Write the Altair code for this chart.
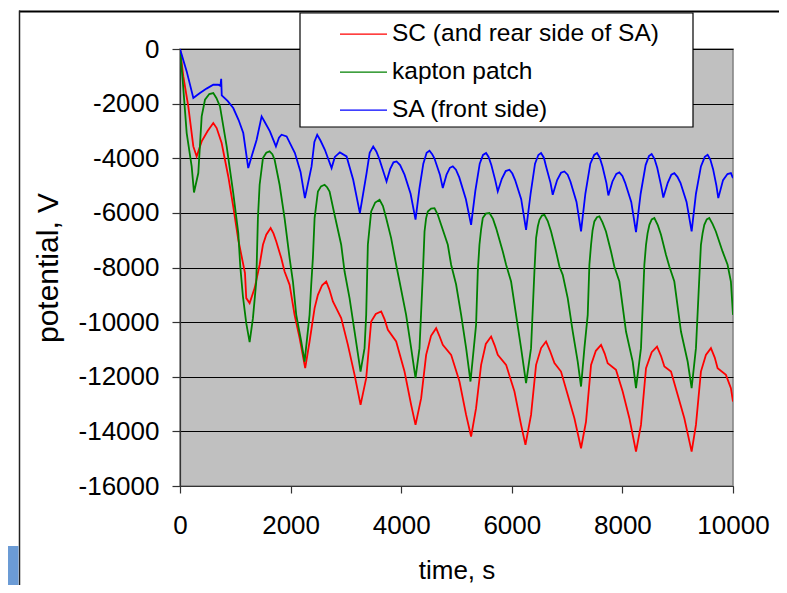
import altair as alt
import pandas as pd

series_names = ["SC (and rear side of SA)", "kapton patch", "SA (front side)"]
series_colors = ["#FF0000", "#008000", "#0000FF"]

x_ticks = [0, 2000, 4000, 6000, 8000, 10000]
y_ticks = [0, -2000, -4000, -6000, -8000, -10000, -12000, -14000, -16000]

# (time s, potential V)
sc_points = [
    (0, 0), (60, -1003), (150, -2103), (241, -3567), (301, -3933), (361, -3567), (392, -3384),
    (500, -3000), (602, -2711), (663, -2894), (753, -3443), (873, -4667), (963, -5766), (1054, -6985),
    (1175, -8205), (1198, -9121), (1259, -9304), (1350, -8755), (1440, -7900), (1500, -7168),
    (1560, -6800), (1639, -6557), (1690, -6750), (1741, -7047), (1831, -7656), (1891, -8146),
    (1982, -8634), (2072, -9733),
    (2163, -10587), (2264, -11685), (2343, -10710), (2434, -9487), (2494, -9000), (2570, -8650),
    (2644, -8513), (2700, -8800),
    (2765, -9245), (2915, -9853), (3036, -10832), (3157, -11930), (3265, -13030), (3367, -12051),
    (3457, -9977), (3540, -9700), (3638, -9610), (3700, -9900), (3759, -10282), (3909, -10710),
    (4060, -11810), (4180, -13030),
    (4259, -13762), (4361, -12784), (4451, -11198), (4540, -10500), (4632, -10220), (4690, -10500),
    (4752, -10832), (4903, -11198),
    (5054, -12175), (5174, -13396), (5264, -14190), (5354, -13152), (5445, -11564), (5530, -10800),
    (5626, -10527), (5690, -10850),
    (5746, -11198), (5897, -11564), (6048, -12542), (6168, -13762), (6247, -14495), (6348, -13396),
    (6439, -11564), (6530, -10950), (6619, -10710), (6690, -11050), (6771, -11502), (6890, -11810),
    (7011, -12663), (7132, -13517),
    (7252, -14617), (7342, -13640), (7433, -11564), (7520, -11050), (7614, -10832), (7680, -11150),
    (7734, -11502), (7884, -11747),
    (8005, -12542), (8126, -13517), (8246, -14740), (8336, -13762), (8427, -11685), (8530, -11100),
    (8626, -10894), (8700, -11250),
    (8759, -11626), (8879, -11810), (8999, -12663), (9120, -13517), (9252, -14740), (9330, -13762),
    (9420, -11810), (9510, -11200), (9601, -10953), (9670, -11300), (9722, -11685), (9872, -11930),
    (9962, -12418), (10000, -12906),
]

kapton_points = [
    (0, 0), (48, -1125), (121, -3077), (211, -4300), (253, -5253), (331, -4542), (392, -2469),
    (452, -1857), (530, -1650), (602, -1612), (660, -1800), (723, -2103), (844, -3567), (963, -5275),
    (1054, -6740), (1090, -7963), (1138, -9062), (1198, -10037), (1259, -10733), (1319, -9854),
    (1379, -8513), (1409, -6190), (1440, -4970), (1500, -3993), (1560, -3800), (1620, -3750),
    (1670, -3850), (1711, -4055), (1801, -4970), (1891, -6190), (1982, -7656), (2042, -8513),
    (2102, -9733), (2192, -10710), (2253, -11443),
    (2343, -9733), (2373, -8623), (2403, -7656), (2434, -6190), (2494, -5216), (2550, -5030),
    (2614, -4970), (2660, -5060), (2705, -5216), (2795, -6070), (2915, -7168), (2976, -8146),
    (3066, -9121), (3157, -10344),
    (3265, -11810), (3337, -10953), (3367, -9733), (3397, -7168), (3457, -5949), (3530, -5620),
    (3609, -5520), (3670, -5750), (3728, -6190), (3818, -6923), (3909, -7900), (3970, -8513),
    (4089, -9733), (4180, -10953),
    (4259, -12051), (4331, -10953), (4391, -8268), (4422, -6680), (4450, -6200), (4481, -5949),
    (4540, -5840), (4602, -5825), (4660, -6060), (4722, -6436), (4843, -7168), (4903, -7900),
    (4993, -8623), (5084, -9733), (5174, -10953),
    (5253, -12175), (5354, -10100), (5385, -8146), (5415, -7168), (5445, -6600), (5475, -6190),
    (5530, -6030), (5596, -6008), (5660, -6220), (5716, -6557), (5837, -7412), (5897, -7900),
    (5987, -8513), (6077, -9733), (6168, -10953),
    (6258, -12235), (6348, -10953), (6409, -8146), (6439, -6923), (6470, -6500), (6500, -6252),
    (6545, -6100), (6590, -6070), (6650, -6300), (6710, -6680), (6800, -7412), (6861, -7963),
    (6921, -8268), (7011, -9121), (7102, -10344), (7192, -11443),
    (7252, -12358), (7313, -10953), (7373, -9733), (7403, -7900), (7433, -7168), (7460, -6650),
    (7493, -6313), (7540, -6160), (7584, -6130), (7640, -6350), (7703, -6680), (7794, -7412),
    (7854, -7963), (7945, -8513), (8065, -10344), (8186, -11443),
    (8246, -12418), (8336, -10953), (8397, -7900), (8427, -7168), (8455, -6750), (8488, -6436),
    (8530, -6240), (8578, -6190), (8640, -6450), (8698, -6802), (8788, -7534), (8849, -7963),
    (8939, -8513), (9059, -10344), (9180, -11443),
    (9252, -12418), (9330, -10953), (9402, -7900), (9420, -7168), (9450, -6750), (9481, -6436),
    (9525, -6240), (9571, -6190), (9630, -6400), (9690, -6680), (9811, -7412), (9902, -7900),
    (9962, -8513), (10000, -9733),
]

sa_points = [
    (0, 0), (121, -820), (241, -1795), (300, -1700), (361, -1612), (480, -1450), (602, -1308),
    (692, -1308), (730, -1350), (745, -1090), (755, -1700), (860, -1900), (963, -2161),
    (1060, -2600), (1144, -3077), (1234, -4360), (1300, -3900), (1386, -3322), (1476, -2468),
    (1540, -2700), (1626, -3018), (1735, -3567), (1790, -3250), (1837, -3140), (1928, -3200),
    (2078, -3810), (2180, -4500), (2259, -5460), (2379, -4300), (2430, -3400), (2481, -3140),
    (2540, -3350), (2620, -3690), (2741, -4360), (2800, -3950), (2891, -3786), (3012, -3932),
    (3132, -4788), (3253, -6008), (3374, -4542), (3430, -3800), (3494, -3567), (3550, -3750),
    (3600, -4000), (3735, -4850), (3800, -4400), (3860, -4150), (3916, -4117), (3980, -4250),
    (4060, -4600), (4170, -5300), (4259, -6250),
    (4330, -5100), (4400, -4200), (4460, -3800), (4512, -3725), (4560, -3850), (4600, -4000),
    (4700, -4600), (4752, -5090), (4820, -4600), (4880, -4350), (4933, -4300), (4990, -4420),
    (5050, -4700), (5170, -5500), (5264, -6440),
    (5340, -5200), (5420, -4200), (5480, -3880), (5535, -3810), (5580, -3950), (5630, -4250),
    (5700, -4800), (5746, -5215), (5820, -4750), (5890, -4470), (5957, -4420), (6010, -4560),
    (6060, -4800), (6170, -5500), (6258, -6620),
    (6340, -5300), (6420, -4200), (6480, -3880), (6529, -3810), (6580, -3980), (6620, -4300),
    (6700, -4900), (6740, -5337), (6820, -4800), (6890, -4530), (6951, -4483), (7010, -4600),
    (7060, -4850), (7170, -5600), (7252, -6680),
    (7330, -5300), (7420, -4200), (7490, -3880), (7541, -3810), (7590, -3980), (7640, -4300),
    (7710, -4900), (7746, -5362), (7820, -4850), (7890, -4570), (7945, -4520), (8000, -4650),
    (8050, -4900), (8160, -5600), (8246, -6705),
    (8330, -5300), (8420, -4250), (8480, -3920), (8529, -3846), (8580, -4020), (8630, -4350),
    (8700, -5000), (8740, -5436), (8820, -4900), (8885, -4600), (8939, -4545), (8995, -4680),
    (9050, -4900), (9160, -5600), (9252, -6680),
    (9330, -5300), (9420, -4300), (9490, -3950), (9541, -3872), (9590, -4050), (9640, -4400),
    (9700, -5000), (9734, -5460), (9820, -4800), (9900, -4580), (9962, -4545), (10000, -4726),
]

rows = []
for name, pts in zip(series_names, [sc_points, kapton_points, sa_points]):
    for i, (t, v) in enumerate(pts):
        rows.append({"series": name, "time": t, "potential": v, "order": i})
df = pd.DataFrame(rows)

FONT = "Liberation Sans"
one = alt.Data(values=[{}])

frame_top = alt.Chart(one).mark_rule(color="#000000", strokeWidth=2).encode(
    x=alt.value(-161), x2=alt.value(610), y=alt.value(-37.5)
)
frame_left = alt.Chart(one).mark_rule(color="#222222", strokeWidth=1.5).encode(
    x=alt.value(-160.5), y=alt.value(-38.5), y2=alt.value(540)
)
patch = alt.Chart(one).mark_rect(fill="#6b9bd5").encode(
    x=alt.value(-175), x2=alt.value(-161.5), y=alt.value(497), y2=alt.value(540)
)

lines = alt.Chart(df).mark_line(strokeWidth=1.8, clip=True).encode(
    x=alt.X("time:Q", scale=alt.Scale(domain=[0, 10000], nice=False),
            axis=alt.Axis(values=x_ticks, title="time, s", grid=False, tickSize=7,
                          labelPadding=19.5, titleBaseline="alphabetic", titleY=92,
                          labelExpr="'' + datum.value",
                          labelFlush=False, labelOverlap=False)),
    y=alt.Y("potential:Q", scale=alt.Scale(domain=[-16000, 0], nice=False),
            axis=alt.Axis(values=y_ticks, title="potential, V", grid=True, gridColor="#000000",
                          gridWidth=1, tickSize=8, labelPadding=13, titleBaseline="alphabetic",
                          titleX=-123, titleFontSize=30, labelExpr="'' + datum.value",
                          labelFlush=False, labelOverlap=False)),
    color=alt.Color("series:N", scale=alt.Scale(domain=series_names, range=series_colors),
                    legend=alt.Legend(title=None, orient="none", legendX=159, legendY=-33.5,
                                      symbolType="stroke", symbolSize=2209, symbolStrokeWidth=1.2,
                                      clipHeight=37.3, rowPadding=0, padding=0,
                                      labelFontSize=24.5, labelFont=FONT, labelOffset=4,
                                      labelColor="#000000", labelLimit=400)),
    order="order:Q",
)

legend_box = alt.Chart(one).mark_rect(fill="#ffffff", stroke="#000000", strokeWidth=1.2).encode(
    x=alt.value(120), x2=alt.value(513), y=alt.value(-36), y2=alt.value(78)
)

chart = alt.layer(frame_top, frame_left, patch, lines, legend_box).properties(
    width=553, height=437,
    padding={"left": 172, "top": 41, "right": 46, "bottom": 99},
    autosize=alt.AutoSizeParams(type="none"),
    background="#ffffff",
).configure_view(
    fill="#C0C0C0", stroke="#808080", strokeWidth=1.5
).configure_axis(
    labelFont=FONT, titleFont=FONT, labelFontSize=26, titleFontSize=26,
    labelColor="#000000", titleColor="#000000", titleFontWeight="normal",
    domainColor="#333333", tickColor="#333333", domainWidth=1.2, tickWidth=1.2,
)

chart.save("out.html", embed_options={"renderer": "svg", "actions": False})
